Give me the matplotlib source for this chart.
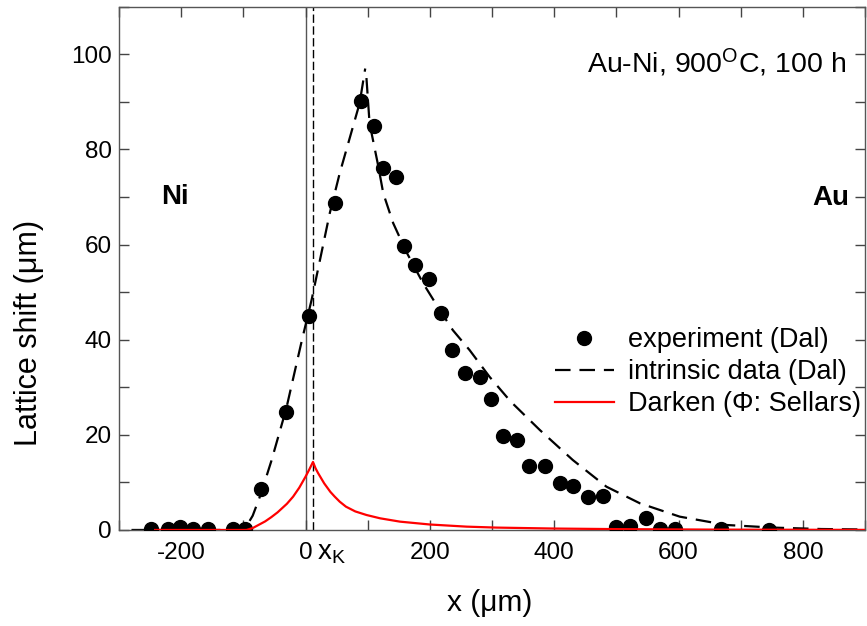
import matplotlib
matplotlib.use("Agg")
import matplotlib.pyplot as plt
from matplotlib.ticker import MultipleLocator

plt.rcParams['font.family'] = ['Liberation Sans', 'DejaVu Sans']
plt.rcParams['mathtext.fontset'] = 'custom'
plt.rcParams['mathtext.rm'] = 'Liberation Sans'
plt.rcParams['mathtext.it'] = 'Liberation Sans'
plt.rcParams['axes.unicode_minus'] = False

# experiment (Dal)
exp_x = [-248, -222, -202, -181, -157, -117, -98, -72, -31, 6, 48, 89, 110, 124, 146,
         158, 176, 199, 218, 236, 257, 280, 298, 317, 340, 359, 385, 410, 430, 455,
         478, 499, 522, 548, 570, 594, 668, 745]
exp_y = [0.2, 0.3, 0.6, 0.2, 0.1, 0.1, 0.1, 8.6, 24.8, 45.0, 68.7, 90.1, 84.9, 76.0, 74.3,
         59.8, 55.6, 52.7, 45.7, 37.8, 33.1, 32.2, 27.5, 19.8, 18.9, 13.5, 13.5, 9.9, 9.2, 7.0,
         7.1, 0.7, 0.9, 2.45, 0.2, 0.1, 0.2, 0.0]

# intrinsic data (Dal): rising and falling branches
intr_up_x = [-280, -105, -95, -85, -72, -55, -31, -6, 10, 39, 55, 87, 96]
intr_up_y = [0, 0, 0.8, 3.0, 7.5, 14.5, 25.5, 39.8, 48.5, 66.6, 75.0, 89.7, 97.0]
intr_dn_x = [98, 103, 110, 117, 125, 141, 162, 189, 216, 237, 264, 296, 330, 377, 430,
             484, 538, 602, 677, 752, 830, 900]
intr_dn_y = [95, 85.5, 81, 76.5, 70.8, 64.5, 58.5, 51.9, 46.2, 42, 37.8, 32.2, 27, 21, 14.7,
             9.1, 5.6, 2.8, 1.05, 0.5, 0.2, 0.1]

# Darken (Phi: Sellars)
dark_x = [-242, -95, -85, -75, -65, -55, -45, -30, -20, -10, 0, 6, 12, 16, 20, 25, 30,
          40, 47, 55, 65, 80, 98, 120, 152, 200, 259, 307, 400, 500, 650, 900]
dark_y = [0, 0, 0.4, 1.1, 1.8, 2.7, 3.7, 5.5, 7.0, 8.9, 11.2, 12.7, 14.3, 13.0, 12.0,
          10.9, 9.8, 8.0, 7.0, 5.95, 4.9, 3.9, 3.15, 2.45, 1.75, 1.15, 0.7, 0.5, 0.3,
          0.18, 0.08, 0.02]

x_matano = 0
x_kirk = 12

fig = plt.figure(figsize=(8.67, 6.26), dpi=100)
ax = fig.add_axes([0.1373, 0.1534, 0.8604, 0.8359])

ax.axvline(x_matano, color='#555555', lw=1.0, zorder=1)
ax.axvline(x_kirk, color='black', lw=1.0, dashes=(6, 2.5), zorder=1)

ax.plot(intr_up_x, intr_up_y, color='black', lw=1.6, dashes=(7, 4), zorder=2)
ax.plot(intr_dn_x, intr_dn_y, color='black', lw=1.6, dashes=(7, 4), zorder=2,
        label='intrinsic data (Dal)')
ax.plot(exp_x, exp_y, 'o', color='black', ms=10, zorder=3, label='experiment (Dal)')
ax.plot(dark_x, dark_y, color='red', lw=1.6, zorder=4, label='Darken (\u03a6: Sellars)')

ax.set_xlim(-300, 900)
ax.set_ylim(0, 110)
ax.xaxis.set_major_locator(MultipleLocator(200))
ax.xaxis.set_minor_locator(MultipleLocator(100))
ax.yaxis.set_major_locator(MultipleLocator(20))
ax.yaxis.set_minor_locator(MultipleLocator(10))
ax.tick_params(which='both', direction='in', top=True, right=True, length=7, width=1,
               color='#444444', labelsize=17.5)
ax.tick_params(axis='x', pad=9)
ax.tick_params(axis='y', pad=5)
for s in ax.spines.values():
    s.set_color('#555555')
    s.set_linewidth(1.0)

ax.set_xlabel('x (\u03bcm)', fontsize=21.5)
ax.xaxis.set_label_coords(0.497, -0.113)
ax.set_ylabel('Lattice shift (\u03bcm)', fontsize=22)
ax.yaxis.set_label_coords(-0.1, 0.377)

ax.text(870, 96, r'Au-Ni, 900$^{\mathrm{O}}$C, 100 h', fontsize=20.5, ha='right',
        va='baseline')
ax.text(-232, 68.5, 'Ni', fontsize=20, fontweight='bold', ha='left', va='baseline')
ax.text(874, 68.3, 'Au', fontsize=20, fontweight='bold', ha='right', va='baseline')
ax.text(18, -2.2, r'x$_{\mathrm{K}}$', fontsize=20, ha='left', va='top', clip_on=False)

handles, labels = ax.get_legend_handles_labels()
order = [labels.index('experiment (Dal)'), labels.index('intrinsic data (Dal)'),
         labels.index('Darken (\u03a6: Sellars)')]
ax.legend([handles[i] for i in order], [labels[i] for i in order],
          loc='upper left', bbox_to_anchor=(0.584, 0.387), frameon=False,
          fontsize=19.5, handlelength=2.2, handletextpad=0.5, labelspacing=0.22,
          borderaxespad=0, borderpad=0)

fig.savefig('out.png', dpi=100)
